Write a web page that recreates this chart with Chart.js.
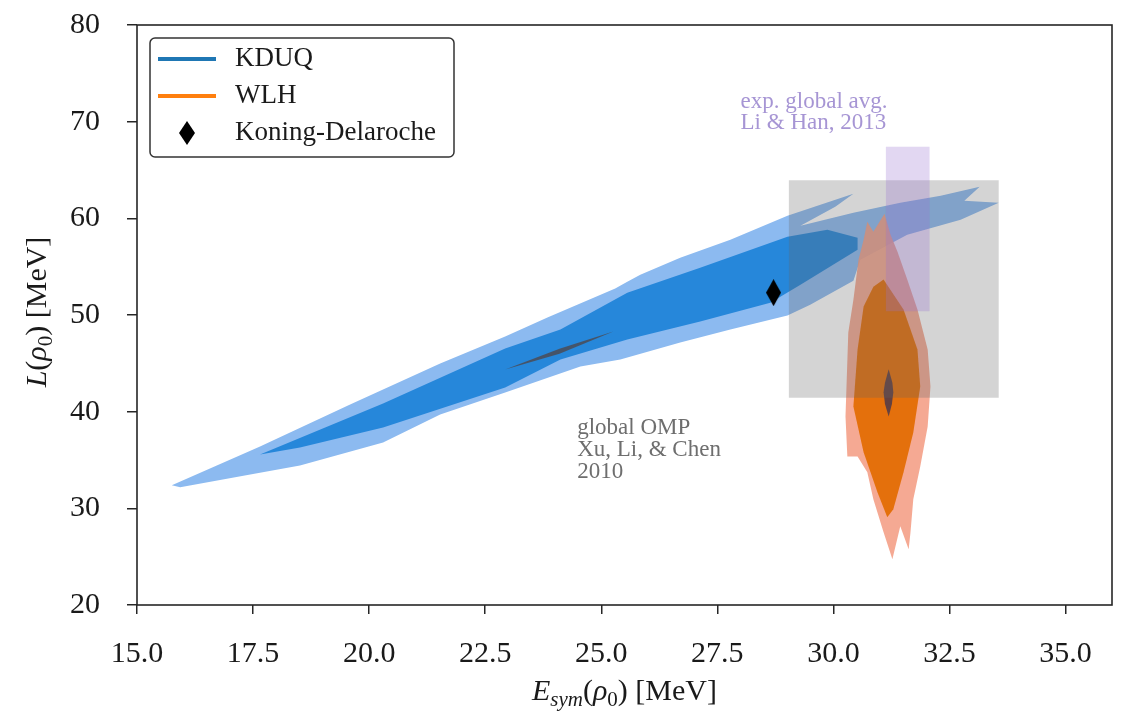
<!DOCTYPE html>
<html>
<head>
<meta charset="utf-8">
<script src="https://cdn.jsdelivr.net/npm/chart.js@4.4.1/dist/chart.umd.min.js"></script>
<style>
    html, body { margin: 0; padding: 0; background: #fff; }
    #wrap { width: 1125px; height: 715px; }
</style>
</head>
<body>
<div id="wrap"><canvas id="chart" width="1125" height="715"></canvas></div>
<script>
// ==========================================
// 1. DATA
// ==========================================
const xTicks = [15, 17.5, 20, 22.5, 25, 27.5, 30, 32.5, 35];
const yTicks = [20, 30, 40, 50, 60, 70, 80];

// KDUQ, outer contour
const kduqOuterX = [15.75, 17.65, 19.59, 21.53, 22.93, 23.84, 25.30, 25.56, 25.84, 26.70, 27.78, 29.01, 29.72, 30.43, 30.04, 29.29,
    30.43, 31.44, 32.31, 33.15, 32.82, 33.56, 32.74, 31.59, 30.58, 30.43, 29.50, 29.01, 27.78, 26.70, 25.41, 24.55, 22.93, 21.53,
    20.30, 18.51, 17.44, 15.93];
const kduqOuterY = [32.38, 36.40, 40.74, 44.98, 47.77, 49.73, 52.73, 53.45, 54.17, 55.93, 57.79, 60.27, 61.40, 62.54, 61.20, 59.24,
    60.58, 61.61, 62.33, 63.26, 61.82, 61.61, 59.86, 58.31, 55.72, 53.55, 51.07, 49.94, 48.49, 47.15, 45.39, 44.67, 41.98, 39.71,
    36.82, 34.44, 33.51, 32.17];

// KDUQ, inner contour
const kduqInnerX = [17.65, 20.30, 22.93, 24.12, 25.56, 27.13, 29.01, 29.87, 30.52, 30.52, 29.29, 28.64, 27.13, 25.56, 24.12, 22.93, 20.30, 18.51];
const kduqInnerY = [35.58, 40.85, 46.53, 48.49, 52.31, 54.90, 58.10, 58.82, 58.00, 56.76, 53.14, 51.28, 49.32, 47.46, 45.39, 42.50, 38.37, 36.30];

// KDUQ, narrow dark core
const kduqCoreX = [22.93, 24.10, 25.26, 24.10];
const kduqCoreY = [44.36, 46.50, 48.29, 46.00];

// WLH, outer contour
const wlhOuterX = [30.65, 30.73, 30.86, 31.10, 31.23, 31.38, 31.59, 31.81, 32.03, 32.09, 32.03, 31.87, 31.72, 31.66, 31.62, 31.44,
    31.27, 31.08, 30.86, 30.73, 30.52, 30.30, 30.26, 30.32, 30.43, 30.54];
const wlhOuterY = [57.79, 59.65, 58.62, 60.48, 58.31, 56.55, 53.66, 50.56, 46.43, 42.60, 38.47, 34.34, 30.93, 27.52, 25.76, 28.14,
    24.73, 27.52, 30.93, 33.72, 35.37, 35.37, 39.50, 48.18, 51.59, 55.72];

// WLH, inner contour
const wlhInnerX = [31.08, 31.51, 31.81, 31.87, 31.72, 31.51, 31.29, 31.16, 30.95, 30.65, 30.43, 30.52, 30.65, 30.86];
const wlhInnerY = [53.66, 50.56, 46.43, 42.60, 37.85, 33.72, 29.90, 29.07, 31.65, 35.79, 40.54, 46.43, 50.87, 52.93];

// WLH, narrow dark core
const wlhCoreX = [31.19, 31.27, 31.29, 31.26, 31.19, 31.11, 31.08, 31.11];
const wlhCoreY = [44.40, 43.00, 42.00, 40.80, 39.50, 40.80, 42.00, 43.00];

// Koning-Delaroche
const kdX = [28.71];
const kdY = [52.31];

// global OMP, Xu, Li & Chen 2010 (E range, L range)
const xuE = [29.04, 33.56];
const xuL = [41.45, 63.95];

// exp. global avg., Li & Han 2013
const liE = [31.13, 32.07];
const liL = [50.4, 67.4];

const liLabel = ['exp. global avg.', 'Li & Han, 2013'];
const xuLabel = ['global OMP', 'Xu, Li, & Chen', '2010'];

// ==========================================
// 2. HELPERS
// ==========================================
const FONT = '"Liberation Serif", "DejaVu Serif", serif';

const poly = (xs, ys) => {
    const pts = xs.map((x, i) => ({ x: x, y: ys[i] }));
    pts.push({ x: xs[0], y: ys[0] });
    return pts;
};
const box = (xr, yr) => poly([xr[0], xr[1], xr[1], xr[0]], [yr[0], yr[0], yr[1], yr[1]]);

function area(data, color, order) {
    return {
        data: data,
        backgroundColor: color,
        borderColor: 'transparent',
        borderWidth: 0,
        fill: 'shape',
        pointRadius: 0,
        tension: 0,
        order: order
    };
}

function thinDiamond(w, h) {
    const c = document.createElement('canvas');
    c.width = w; c.height = h;
    const g = c.getContext('2d');
    g.fillStyle = '#000';
    g.beginPath();
    g.moveTo(w / 2, 0); g.lineTo(w, h / 2); g.lineTo(w / 2, h); g.lineTo(0, h / 2);
    g.closePath();
    g.fill();
    return c;
}

// text made of pieces: [text, italic, subscript]
function drawRuns(ctx, parts, x, y, size) {
    const fontOf = p => (p[1] ? 'italic ' : '') + (p[2] ? Math.round(size * 0.7) : size) + 'px ' + FONT;
    let w = 0;
    parts.forEach(p => { ctx.font = fontOf(p); w += ctx.measureText(p[0]).width; });
    let cx = x - w / 2;
    ctx.textAlign = 'left';
    ctx.textBaseline = 'middle';
    parts.forEach(p => {
        ctx.font = fontOf(p);
        ctx.fillText(p[0], cx, y + (p[2] ? size * 0.28 : 0));
        cx += ctx.measureText(p[0]).width;
    });
}

// ==========================================
// 3. FRAME, LABELS, LEGEND
// ==========================================
const decorPlugin = {
    id: 'decor',
    afterDraw(chart) {
        const { ctx, chartArea: a, scales: { x, y } } = chart;
        ctx.save();

        // full frame
        ctx.strokeStyle = '#262626';
        ctx.lineWidth = 1.6;
        ctx.strokeRect(a.left, a.top, a.right - a.left, a.bottom - a.top);

        // annotations
        ctx.textAlign = 'left';
        ctx.textBaseline = 'middle';
        ctx.font = '23px ' + FONT;
        ctx.fillStyle = 'rgba(150,130,205,0.85)';
        liLabel.forEach((t, i) => ctx.fillText(t, x.getPixelForValue(28.0), y.getPixelForValue(72.05) + i * 21));
        ctx.fillStyle = '#6e6e6e';
        xuLabel.forEach((t, i) => ctx.fillText(t, x.getPixelForValue(24.48), y.getPixelForValue(38.3) + i * 22));

        // legend
        const lx = a.left + 13, ly = a.top + 13;
        ctx.fillStyle = 'rgba(255,255,255,0.85)';
        ctx.strokeStyle = '#333';
        ctx.lineWidth = 1.5;
        ctx.beginPath();
        ctx.roundRect(lx, ly, 304, 119, 5);
        ctx.fill();
        ctx.stroke();

        const rows = [
            { label: 'KDUQ', color: '#1f77b4' },
            { label: 'WLH', color: '#ff7f0e' },
            { label: 'Koning-Delaroche', marker: true }
        ];
        rows.forEach((r, i) => {
            const ry = ly + 21 + i * 37;
            if (r.marker) {
                ctx.drawImage(legendDiamond, lx + 37 - 8, ry - 12);
            } else {
                ctx.strokeStyle = r.color;
                ctx.lineWidth = 4;
                ctx.beginPath();
                ctx.moveTo(lx + 8, ry);
                ctx.lineTo(lx + 66, ry);
                ctx.stroke();
            }
            ctx.fillStyle = '#1a1a1a';
            ctx.font = '27px ' + FONT;
            ctx.textAlign = 'left';
            ctx.textBaseline = 'middle';
            ctx.fillText(r.label, lx + 85, ry);
        });

        // axis titles
        ctx.fillStyle = '#1a1a1a';
        drawRuns(ctx, [['E', true], ['sym', true, true], ['(', false], ['ρ', true], ['0', false, true], [') [MeV]', false]],
            (a.left + a.right) / 2, 692, 30);
        ctx.translate(38, 312);
        ctx.rotate(-Math.PI / 2);
        drawRuns(ctx, [['L', true], ['(', false], ['ρ', true], ['0', false, true], [') [MeV]', false]], 0, 0, 30);

        ctx.restore();
    }
};

const kdDiamond = thinDiamond(15, 27);
const legendDiamond = thinDiamond(16, 24);

// ==========================================
// 4. CHART
// ==========================================
const tickFont = { family: FONT, size: 30 };

new Chart(document.getElementById('chart'), {
    type: 'line',
    data: {
        datasets: [
            {
                data: kdX.map((v, i) => ({ x: v, y: kdY[i] })),
                showLine: false,
                pointStyle: kdDiamond,
                pointRadius: 10,
                order: 1
            },
            area(box(liE, liL), 'rgba(150,110,210,0.28)', 2),
            area(box(xuE, xuL), 'rgba(100,100,100,0.28)', 3),
            area(poly(wlhCoreX, wlhCoreY), 'rgba(85,60,70,0.9)', 4),
            area(poly(wlhInnerX, wlhInnerY), 'rgb(228,112,12)', 5),
            area(poly(wlhOuterX, wlhOuterY), 'rgba(244,160,135,0.9)', 6),
            area(poly(kduqCoreX, kduqCoreY), 'rgba(75,75,85,0.85)', 7),
            area(poly(kduqInnerX, kduqInnerY), 'rgb(38,135,218)', 8),
            area(poly(kduqOuterX, kduqOuterY), 'rgb(140,186,240)', 9)
        ]
    },
    options: {
        responsive: false,
        animation: false,
        events: [],
        devicePixelRatio: 1,
        layout: { padding: { left: 0, right: 13, top: 25, bottom: 0 } },
        plugins: { legend: { display: false }, tooltip: { enabled: false } },
        scales: {
            x: {
                type: 'linear',
                min: 15,
                max: 36,
                afterBuildTicks: s => { s.ticks = xTicks.map(v => ({ value: v })); },
                afterFit: s => { s.height = 110; },
                border: { display: false },
                grid: { drawOnChartArea: false, drawTicks: true, tickLength: 9, color: '#262626', lineWidth: 1.5 },
                ticks: { font: tickFont, color: '#1a1a1a', padding: 22, maxRotation: 0, callback: v => v.toFixed(1) }
            },
            y: {
                type: 'linear',
                min: 20,
                max: 80,
                afterBuildTicks: s => { s.ticks = yTicks.map(v => ({ value: v })); },
                afterFit: s => { s.width = 137; s.paddingTop = 10; s.paddingBottom = 10; },
                border: { display: false },
                grid: { drawOnChartArea: false, drawTicks: true, tickLength: 10, color: '#262626', lineWidth: 1.5 },
                ticks: { font: tickFont, color: '#1a1a1a', padding: 27, callback: v => String(v) }
            }
        }
    },
    plugins: [decorPlugin]
});
</script>
</body>
</html>
